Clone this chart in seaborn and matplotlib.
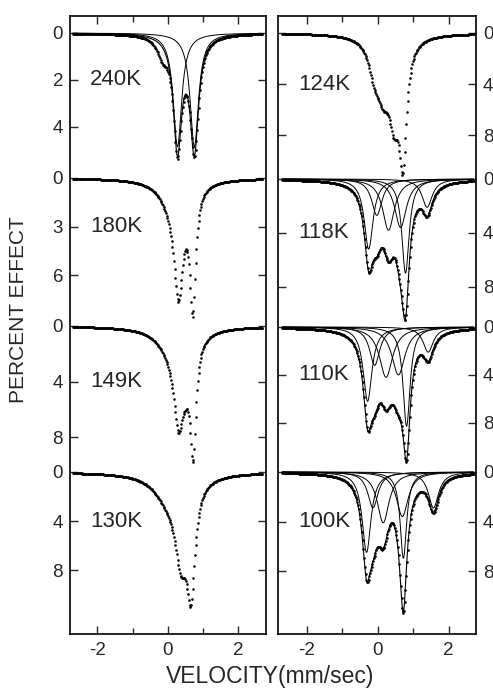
import numpy as np
import pandas as pd
import seaborn as sns
import matplotlib.pyplot as plt

sns.set_style("white")
plt.rcParams['font.family'] = ['Liberation Sans', 'DejaVu Sans']

# spectrometer channels (mm/sec)
velocity = np.linspace(-2.7, 2.7, 256)

# absorption lines: (centre mm/sec, depth %, width mm/sec)
lines_240K = [(0.28, 4.85, 0.29), (0.76, 4.85, 0.29)]
extra_240K = [(-0.15, 0.7, 0.35)]          # shoulder seen only in the data
lines_180K = [(0.31, 5.9, 0.30), (0.71, 7.35, 0.20), (0.15, 1.5, 0.8)]
lines_149K = [(0.31, 4.8, 0.30), (0.72, 7.9, 0.20), (0.20, 2.0, 0.9), (0.50, 1.5, 0.30)]
lines_130K = [(0.66, 8.25, 0.28), (0.38, 5.46, 0.40), (0.05, 2.0, 1.0)]
lines_124K = [(0.70, 8.8, 0.25), (0.45, 5.0, 0.35), (0.15, 3.5, 0.45), (-0.10, 2.2, 0.40)]
lines_118K = [(-0.26, 5.2, 0.30), (-0.03, 2.7, 0.35), (0.30, 3.8, 0.40),
              (0.64, 3.6, 0.40), (0.78, 7.0, 0.25), (1.39, 2.1, 0.35)]
lines_110K = [(-0.29, 6.2, 0.30), (-0.09, 3.2, 0.35), (0.23, 4.2, 0.45),
              (0.58, 4.0, 0.45), (0.81, 8.3, 0.24), (1.42, 2.1, 0.35)]
lines_100K = [(-0.32, 6.5, 0.30), (-0.14, 2.9, 0.35), (0.15, 4.1, 0.40),
              (0.69, 3.6, 0.40), (0.72, 7.0, 0.22), (1.57, 2.9, 0.35)]

# percent effect tick labels of each spectrum
ticks_240K = [0, 2, 4]
ticks_180K = [0, 3, 6]
ticks_8 = [0, 4, 8]

# (label, lines, extra data-only lines, ticks, draw fit components)
left_col = [("240K", lines_240K, extra_240K, ticks_240K, True),
            ("180K", lines_180K, [], ticks_180K, False),
            ("149K", lines_149K, [], ticks_8, False),
            ("130K", lines_130K, [], ticks_8, False)]
right_col = [("124K", lines_124K, [], ticks_8, False),
             ("118K", lines_118K, [], ticks_8, True),
             ("110K", lines_110K, [], ticks_8, True),
             ("100K", lines_100K, [], ticks_8, True)]

# stacking: baseline row and pixels per percent for each spectrum
base_left = [33, 178, 326, 472]
scale_left = [23.5, 16.2, 13.9, 12.3]
base_right = [33, 179, 327, 472]
scale_right = [12.8, 13.5, 12.0, 12.4]


def lorentz(v, c, d, w):
    return d / (1 + (2 * (v - c) / w) ** 2)


W, H = 493, 694
fig = plt.figure(figsize=(W / 100, H / 100), dpi=100)
ax_l = fig.add_axes([70 / W, 60 / H, 196 / W, 618 / H])
ax_r = fig.add_axes([278 / W, 60 / H, 198 / W, 618 / H])


def draw_column(ax, col, bases, scales, text_x):
    yt, yl = [], []
    for (label, lines, extra, ticks, comps), b, s in zip(col, bases, scales):
        fit = sum(lorentz(velocity, *ln) for ln in lines)
        data = fit + sum((lorentz(velocity, *ln) for ln in extra), np.zeros_like(velocity))
        df = pd.DataFrame({"v": velocity, "y": b + s * data})
        sns.scatterplot(data=df, x="v", y="y", ax=ax, s=3.5, color="black",
                        linewidth=0, marker="o", legend=False)
        if comps:
            for ln in lines:
                dc = pd.DataFrame({"v": velocity, "y": b + s * lorentz(velocity, *ln)})
                sns.lineplot(data=dc, x="v", y="y", ax=ax, color="black", lw=0.7,
                             estimator=None, sort=False)
            df_fit = pd.DataFrame({"v": velocity, "y": b + s * fit})
            sns.lineplot(data=df_fit, x="v", y="y", ax=ax, color="black", lw=0.8,
                         estimator=None, sort=False)
        for t in ticks:
            yt.append(b + s * t)
            yl.append(str(t))
        ax.text(text_x, b + s * ticks[1], label, fontsize=16, ha="left", va="center")
    ax.set_yticks(yt)
    ax.set_yticklabels(yl)


draw_column(ax_l, left_col, base_left, scale_left, -2.2)
draw_column(ax_r, right_col, base_right, scale_right, -2.26)

ax_l.set_xlim(-2.78, 2.8)
ax_r.set_xlim(-2.82, 2.77)
for ax in (ax_l, ax_r):
    ax.set_ylim(634, 16)
    ax.set_xlabel("")
    ax.set_ylabel("")
    ax.set_xticks([-2, 0, 2])
    ax.set_xticklabels(["-2", "0", "2"])
    ax.set_xticks([-1, 1], minor=True)
    ax.tick_params(axis="x", which="major", direction="in", top=True, bottom=True,
                   length=6, width=1, labelsize=13.5, pad=6)
    ax.tick_params(axis="x", which="minor", direction="in", top=True, bottom=True,
                   length=4, width=1)
    ax.tick_params(axis="y", direction="in", left=True, right=True, length=6,
                   width=1, labelsize=13.5, pad=5)
    for sp in ax.spines.values():
        sp.set_linewidth(1.2)
        sp.set_color("black")
ax_r.tick_params(axis="y", labelleft=False, labelright=True)

fig.text(19 / W, 1 - 310 / H, "PERCENT EFFECT", rotation=90, fontsize=15,
         ha="center", va="center")
fig.text(270 / W, 1 - 677 / H, "VELOCITY(mm/sec)", fontsize=16.5,
         ha="center", va="center")

fig.savefig("out.png", dpi=100)
